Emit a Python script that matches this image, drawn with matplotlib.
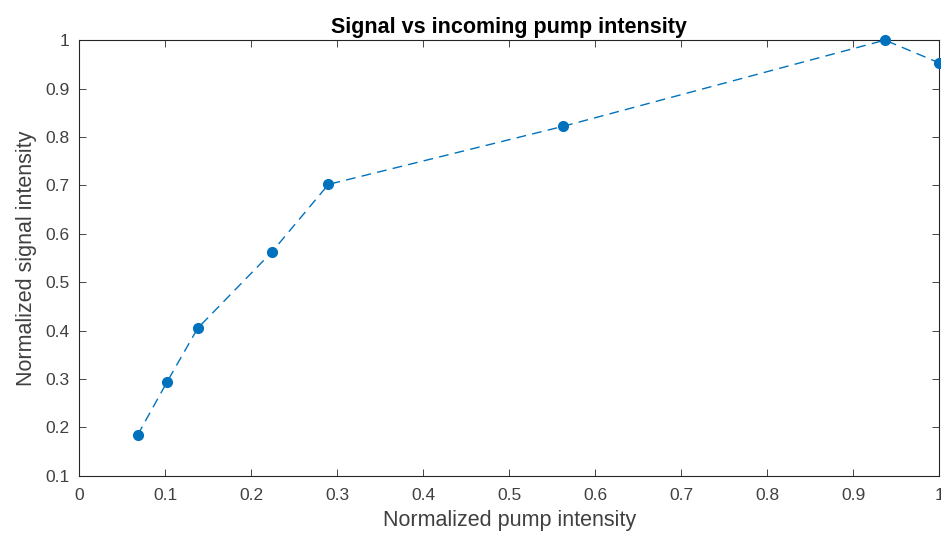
import matplotlib
matplotlib.use("Agg")
import matplotlib.pyplot as plt
import numpy as np

# data
pump = [0.068, 0.102, 0.138, 0.224, 0.290, 0.563, 0.937, 1.0]
signal = [0.184, 0.293, 0.405, 0.562, 0.702, 0.822, 1.0, 0.953]

xticks = np.round(np.arange(0, 1.01, 0.1), 1)
yticks = np.round(np.arange(0.1, 1.01, 0.1), 1)
xtick_labels = ["0", "0.1", "0.2", "0.3", "0.4", "0.5", "0.6", "0.7", "0.8", "0.9", "1"]
ytick_labels = ["0.1", "0.2", "0.3", "0.4", "0.5", "0.6", "0.7", "0.8", "0.9", "1"]

plt.rcParams['font.family'] = ['Liberation Sans', 'DejaVu Sans']

fig = plt.figure(figsize=(9.41, 5.42), dpi=100)
ax = fig.add_axes([0.084, 0.122, 0.914, 0.804])

ax.plot(pump, signal, linestyle='--', color='#0072BD', linewidth=1.0,
        marker='o', markersize=7, dashes=(7, 4.5), clip_on=False, zorder=3)

ax.set_xlim(0, 1)
ax.set_ylim(0.1, 1)
ax.set_xticks(xticks, xtick_labels)
ax.set_yticks(yticks, ytick_labels)
ax.tick_params(direction='in', top=True, right=True, length=5, width=0.6,
               colors='#262626', labelsize=12.5, labelcolor='#404040')
ax.tick_params(axis='x', pad=9)
ax.tick_params(axis='y', pad=7)
for s in ax.spines.values():
    s.set_linewidth(0.8)
    s.set_color('#262626')

ax.set_xlabel('Normalized pump intensity', fontsize=15.5, color='#404040', labelpad=5)
ax.set_ylabel('Normalized signal intensity', fontsize=15.5, color='#404040', labelpad=6)
ax.set_title('Signal vs incoming pump intensity', fontsize=15.5, fontweight='bold',
             color='#000000', pad=5)

fig.savefig('out.png', dpi=100)
